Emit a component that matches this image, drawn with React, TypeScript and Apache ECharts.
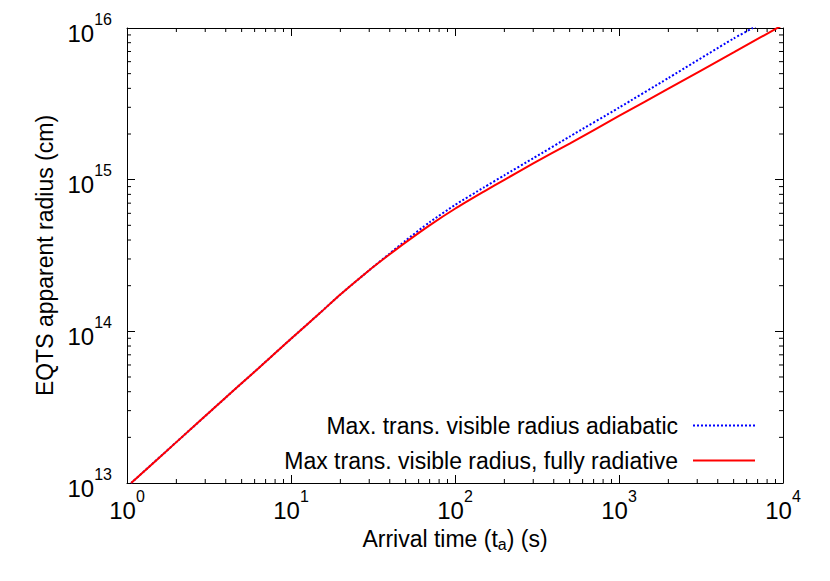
import React, { useEffect, useRef } from "react";
import * as echarts from "echarts";

// ---- data ----
const radiativeTimes = [1.06, 2, 4, 6, 10, 15, 20, 30, 40, 50, 70, 100, 150, 200, 300, 500, 1000, 2000, 5000, 10000];
const radiativeRadius = [1.0e13, 1.86e13, 3.66e13, 5.42e13, 8.93e13, 1.32e14, 1.75e14, 2.53e14, 3.22e14, 3.86e14, 5.0e14, 6.43e14, 8.34e14, 9.98e14, 1.28e15, 1.73e15, 2.63e15, 3.98e15, 6.9e15, 1.05e16];

const adiabaticTimes = [1.06, 2, 4, 6, 10, 15, 20, 30, 40, 50, 70, 100, 150, 200, 300, 500, 1000, 2000, 5000, 6530, 10000];
const adiabaticRadius = [1.0e13, 1.86e13, 3.66e13, 5.42e13, 8.93e13, 1.32e14, 1.75e14, 2.53e14, 3.26e14, 3.97e14, 5.24e14, 6.81e14, 8.89e14, 1.069e15, 1.384e15, 1.923e15, 2.985e15, 4.68e15, 8.53e15, 1.0e16, 1.32e16];

const xMinorTicks = [2, 3, 4, 5, 6, 7, 8, 9, 20, 30, 40, 50, 60, 70, 80, 90, 200, 300, 400, 500, 600, 700, 800, 900, 2000, 3000, 4000, 5000, 6000, 7000, 8000, 9000];
const yMinorTicks = [2e13, 3e13, 4e13, 5e13, 6e13, 7e13, 8e13, 9e13, 2e14, 3e14, 4e14, 5e14, 6e14, 7e14, 8e14, 9e14, 2e15, 3e15, 4e15, 5e15, 6e15, 7e15, 8e15, 9e15];

const X_MIN = 1;
const X_MAX = 1e4;
const Y_MIN = 1e13;
const Y_MAX = 1e16;

const seriesNames = ["Max. trans. visible radius adiabatic", "Max trans. visible radius, fully radiative"];

const FONT = "'Liberation Sans', Arial, Helvetica, sans-serif";

const pow10Label = (v: number) => {
  const e = Math.round(Math.log10(v));
  return `{b|10}{s|${e}}`;
};
const powRich = {
  b: { fontSize: 24, lineHeight: 34, verticalAlign: "bottom", fontFamily: FONT, color: "#000" },
  s: { fontSize: 16, verticalAlign: "top", fontFamily: FONT, color: "#000" },
};

export default function App() {
  const ref = useRef<HTMLDivElement>(null);
  useEffect(() => {
    if (!ref.current) return;
    const chart = echarts.init(ref.current, undefined, { renderer: "svg" });
    const axisLine = { show: true, lineStyle: { color: "#000", width: 1 } };
    const majorTick = { show: true, inside: true, length: 8, lineStyle: { color: "#000", width: 1 } };
    const option: any = {
      animation: false,
      backgroundColor: "#fff",
      textStyle: { fontFamily: FONT },
      grid: { left: 127, right: 47, top: 28, bottom: 98, containLabel: false },
      legend: {
        orient: "vertical",
        align: "right",
        right: 69,
        top: 409,
        itemWidth: 62,
        itemHeight: 14,
        itemGap: 12,
        data: seriesNames,
        itemStyle: { opacity: 0 },
        textStyle: { fontSize: 23, fontFamily: FONT, color: "#000", padding: [0, 10, 0, 0] },
        selectedMode: false,
      },
      xAxis: [
        {
          type: "log",
          logBase: 10,
          min: X_MIN,
          max: X_MAX,
          splitNumber: 4,
          position: "bottom",
          axisLine,
          axisTick: majorTick,
          splitLine: { show: false },
          axisLabel: { margin: 5, formatter: pow10Label, rich: powRich },
          name: "{n|Arrival time (t}{sub|a}{n|) (s)}",
          nameLocation: "middle",
          nameGap: 44,
          nameTextStyle: {
            rich: {
              n: { fontSize: 23, lineHeight: 25, verticalAlign: "top", fontFamily: FONT, color: "#000" },
              sub: { fontSize: 16, verticalAlign: "bottom", fontFamily: FONT, color: "#000" },
            },
          },
        },
        {
          type: "log",
          logBase: 10,
          min: X_MIN,
          max: X_MAX,
          splitNumber: 4,
          position: "top",
          axisLine,
          axisTick: majorTick,
          splitLine: { show: false },
          axisLabel: { show: false },
        },
      ],
      yAxis: [
        {
          type: "log",
          logBase: 10,
          min: Y_MIN,
          max: Y_MAX,
          splitNumber: 3,
          position: "left",
          axisLine,
          axisTick: majorTick,
          splitLine: { show: false },
          axisLabel: { margin: 15, formatter: pow10Label, rich: powRich },
          name: "EQTS apparent radius (cm)",
          nameLocation: "middle",
          nameGap: 69,
          nameTextStyle: { fontSize: 23, fontFamily: FONT, color: "#000" },
        },
        {
          type: "log",
          logBase: 10,
          min: Y_MIN,
          max: Y_MAX,
          splitNumber: 3,
          position: "right",
          axisLine,
          axisTick: majorTick,
          splitLine: { show: false },
          axisLabel: { show: false },
        },
      ],
      series: [
        {
          name: seriesNames[0],
          type: "line",
          xAxisIndex: 0,
          yAxisIndex: 0,
          data: adiabaticTimes.map((t, i) => [t, adiabaticRadius[i]]),
          symbol: "none",
          smooth: 0.2,
          clip: true,
          z: 2,
          itemStyle: { color: "#0000ff" },
          lineStyle: { color: "#0000ff", width: 2, type: [2, 2] },
        },
        {
          name: seriesNames[1],
          type: "line",
          xAxisIndex: 0,
          yAxisIndex: 0,
          data: radiativeTimes.map((t, i) => [t, radiativeRadius[i]]),
          symbol: "none",
          smooth: 0.2,
          clip: true,
          z: 3,
          itemStyle: { color: "#ff0000" },
          lineStyle: { color: "#ff0000", width: 2 },
        },
        {
          name: "xMinor",
          type: "custom",
          xAxisIndex: 0,
          yAxisIndex: 0,
          silent: true,
          data: xMinorTicks.map((v) => [v, Y_MIN]),
          renderItem: (_p: any, api: any) => {
            const x = api.value(0);
            const b = api.coord([x, Y_MIN]);
            const t = api.coord([x, Y_MAX]);
            const st = { stroke: "#000", lineWidth: 1 };
            return {
              type: "group",
              children: [
                { type: "line", shape: { x1: b[0], y1: b[1], x2: b[0], y2: b[1] - 4 }, style: st },
                { type: "line", shape: { x1: t[0], y1: t[1], x2: t[0], y2: t[1] + 4 }, style: st },
              ],
            };
          },
        },
        {
          name: "yMinor",
          type: "custom",
          xAxisIndex: 0,
          yAxisIndex: 0,
          silent: true,
          data: yMinorTicks.map((v) => [X_MIN, v]),
          renderItem: (_p: any, api: any) => {
            const y = api.value(1);
            const l = api.coord([X_MIN, y]);
            const r = api.coord([X_MAX, y]);
            const st = { stroke: "#000", lineWidth: 1 };
            return {
              type: "group",
              children: [
                { type: "line", shape: { x1: l[0], y1: l[1], x2: l[0] + 4, y2: l[1] }, style: st },
                { type: "line", shape: { x1: r[0], y1: r[1], x2: r[0] - 4, y2: r[1] }, style: st },
              ],
            };
          },
        },
      ],
    };
    chart.setOption(option);
    return () => chart.dispose();
  }, []);
  return <div ref={ref} style={{ position: "absolute", left: 0, top: 0, width: 830, height: 581 }} />;
}
